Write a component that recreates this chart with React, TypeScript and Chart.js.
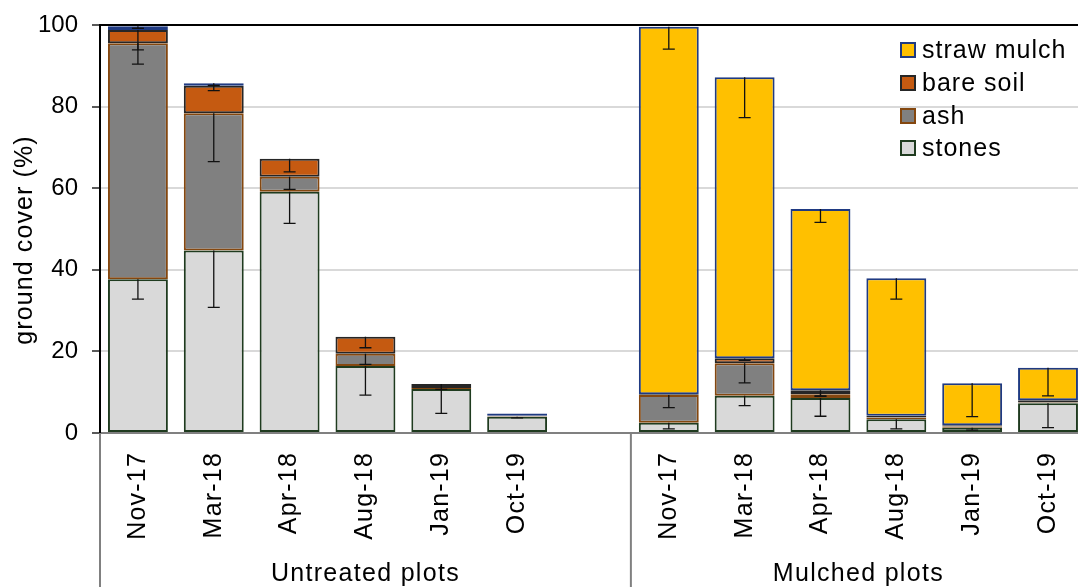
import React, { useEffect, useRef } from "react";
import { Chart, registerables } from "chart.js";

Chart.register(...registerables);

const categories = ["Nov-17", "Mar-18", "Apr-18", "Aug-18", "Jan-19", "Oct-19", "", "Nov-17", "Mar-18", "Apr-18", "Aug-18", "Jan-19", "Oct-19"];
const groups = ["Untreated plots", "Mulched plots"];
const yTitle = "ground cover (%)";

const stones = [37.7, 44.7, 59.1, 16.4, 10.8, 4.0, null, 2.5, 9.1, 8.6, 3.4, 1.3, 7.3];
const stonesErr = [4.9, 13.9, 7.7, 7.1, 6.0, 0.3, null, 1.5, 2.4, 4.5, 2.4, 0.6, 6.0];
const ash = [57.8, 33.7, 3.7, 3.0, 0.2, 0.1, null, 6.8, 8.0, 0.9, 0.4, 0.3, 0.2];
const ashErr = [5.1, 11.9, 3.1, 2.6, 0, 0, null, 3.1, 4.8, 0.5, 0, 0, 0];
const bareSoil = [3.3, 6.7, 4.4, 4.2, 1.0, 0.1, null, 0.2, 1.2, 1.0, 0.4, 0.3, 0.5];
const bareSoilErr = [4.9, 1.2, 3.2, 2.7, 1.3, 0, null, 0, 0.5, 1.4, 0, 0, 0];
const strawMulch = [0.9, 0.6, null, null, null, 0.6, null, 90.1, 68.9, 44.4, 33.7, 10.3, 8.0];
const strawMulchErr = [0.5, 0.5, 0, 0, 0, 0, null, 5.5, 9.9, 3.3, 5.1, 8.2, 6.9];

const yTicks = [0, 20, 40, 60, 80, 100];

const FONT = "'Liberation Sans', Arial, sans-serif";

const seriesDefs = [
  { label: "stones", data: stones, err: stonesErr, bg: "#d9d9d9", border: "#1f3b1f" },
  { label: "ash", data: ash, err: ashErr, bg: "#808080", border: "#84470f" },
  { label: "bare soil", data: bareSoil, err: bareSoilErr, bg: "#c55a11", border: "#262626" },
  { label: "straw mulch", data: strawMulch, err: strawMulchErr, bg: "#ffc000", border: "#1f3a82" },
];

const errorBarPlugin = {
  id: "errorBars",
  afterDatasetsDraw(chart: any) {
    const ctx = chart.ctx;
    const y = chart.scales.y;
    ctx.save();
    ctx.strokeStyle = "#111";
    ctx.lineWidth = 1.3;
    seriesDefs.forEach((s, di) => {
      const meta = chart.getDatasetMeta(di);
      s.data.forEach((v, i) => {
        const e = s.err[i];
        if (v === null || !e) return;
        let top = 0;
        for (let k = 0; k <= di; k++) top += (seriesDefs[k].data[i] as number) || 0;
        const x = meta.data[i].x;
        const y1 = y.getPixelForValue(top);
        const y2 = y.getPixelForValue(top - e);
        ctx.beginPath();
        ctx.moveTo(x, y1);
        ctx.lineTo(x, y2);
        ctx.moveTo(x - 6, y2);
        ctx.lineTo(x + 6, y2);
        ctx.stroke();
      });
    });
    ctx.restore();
  },
};

const spacingPlugin = {
  id: "labelSpacing",
  beforeDraw(chart: any) {
    const xs = chart.scales.x;
    if (xs && !xs.__patched) {
      const orig = xs.drawLabels.bind(xs);
      xs.drawLabels = (area: any) => {
        const c = chart.ctx;
        c.save();
        c.letterSpacing = "1.2px";
        orig(area);
        c.restore();
      };
      xs.__patched = true;
    }
  },
};

const decorPlugin = {
  id: "decor",
  afterDraw(chart: any) {
    const ctx = chart.ctx;
    const xs = chart.scales.x;
    const area = chart.chartArea;
    const H = chart.height;
    ctx.save();
    // group separators
    ctx.strokeStyle = "#808080";
    ctx.lineWidth = 2;
    const seps = [area.left, xs.getPixelForValue(6.5)];
    seps.forEach((sx: number) => {
      ctx.beginPath();
      ctx.moveTo(sx, area.bottom);
      ctx.lineTo(sx, H);
      ctx.stroke();
    });
    // group labels
    ctx.fillStyle = "#000";
    ctx.font = `25px ${FONT}`;
    ctx.letterSpacing = "1.3px";
    ctx.textAlign = "center";
    ctx.textBaseline = "alphabetic";
    ctx.fillText(groups[0], xs.getPixelForValue(3), 581);
    ctx.fillText(groups[1], xs.getPixelForValue(9.5), 581);
    // y-axis title
    ctx.save();
    ctx.translate(25, 240);
    ctx.rotate(-Math.PI / 2);
    ctx.textBaseline = "middle";
    ctx.font = `25px ${FONT}`;
    ctx.letterSpacing = "1.1px";
    ctx.fillText(yTitle, 0, 0);
    ctx.restore();
    // legend
    const order = [3, 2, 1, 0];
    const lx = 901;
    const rowY = [50, 83, 116, 148];
    ctx.textAlign = "left";
    ctx.textBaseline = "middle";
    ctx.letterSpacing = "1px";
    order.forEach((di, r) => {
      const s = seriesDefs[di];
      const cy = rowY[r];
      ctx.fillStyle = s.bg;
      ctx.fillRect(lx, cy - 7, 14, 14);
      ctx.strokeStyle = s.border;
      ctx.lineWidth = 2;
      ctx.strokeRect(lx, cy - 7, 14, 14);
      ctx.fillStyle = "#000";
      ctx.fillText(s.label, lx + 21, cy + 1);
    });
    ctx.restore();
  },
};

export default function App() {
  const ref = useRef<HTMLCanvasElement>(null);
  useEffect(() => {
    if (!ref.current) return;
    const chart = new Chart(ref.current, {
      type: "bar",
      data: {
        labels: categories,
        datasets: seriesDefs.map((s) => ({
          label: s.label,
          data: s.data,
          backgroundColor: s.bg,
          borderColor: s.border,
          borderWidth: 2,
          borderSkipped: false,
          barPercentage: 0.79,
          categoryPercentage: 1,
        })),
      },
      options: {
        responsive: false,
        animation: false,
        events: [],
        layout: { padding: { top: 25, right: 0, left: 0, bottom: 0 } },
        plugins: { legend: { display: false }, tooltip: { enabled: false } },
        scales: {
          x: {
            stacked: true,
            grid: { display: false, drawTicks: false },
            border: { display: true, color: "#808080", width: 2 },
            ticks: {
              autoSkip: false,
              minRotation: 90,
              maxRotation: 90,
              padding: 19,
              color: "#000",
              font: { family: FONT, size: 25 },
            },
            afterFit: (s: any) => {
              s.height = 154;
            },
          },
          y: {
            stacked: true,
            min: 0,
            max: 100,
            afterBuildTicks: (s: any) => {
              s.ticks = yTicks.map((v) => ({ value: v }));
            },
            grid: {
              color: (c: any) => (c.tick && c.tick.value === 100 ? "#000" : c.tick && c.tick.value === 0 ? "rgba(0,0,0,0)" : "#d9d9d9"),
              lineWidth: 2,
              tickLength: 8,
              tickColor: "#595959",
            },
            border: { display: true, color: "#000", width: 2 },
            ticks: {
              padding: 14,
              color: "#000",
              font: { family: FONT, size: 24 },
            },
            title: { display: false },
            afterFit: (s: any) => {
              s.width = 100;
              s.paddingTop = 0;
              s.paddingBottom = 0;
            },
          },
        },
      },
      plugins: [spacingPlugin, errorBarPlugin, decorPlugin],
    });
    return () => chart.destroy();
  }, []);
  return (
    <div style={{ position: "absolute", left: 0, top: 0, width: 1078, height: 587, overflow: "hidden", background: "#fff" }}>
      <canvas ref={ref} width={1097} height={587} style={{ display: "block" }} />
    </div>
  );
}
